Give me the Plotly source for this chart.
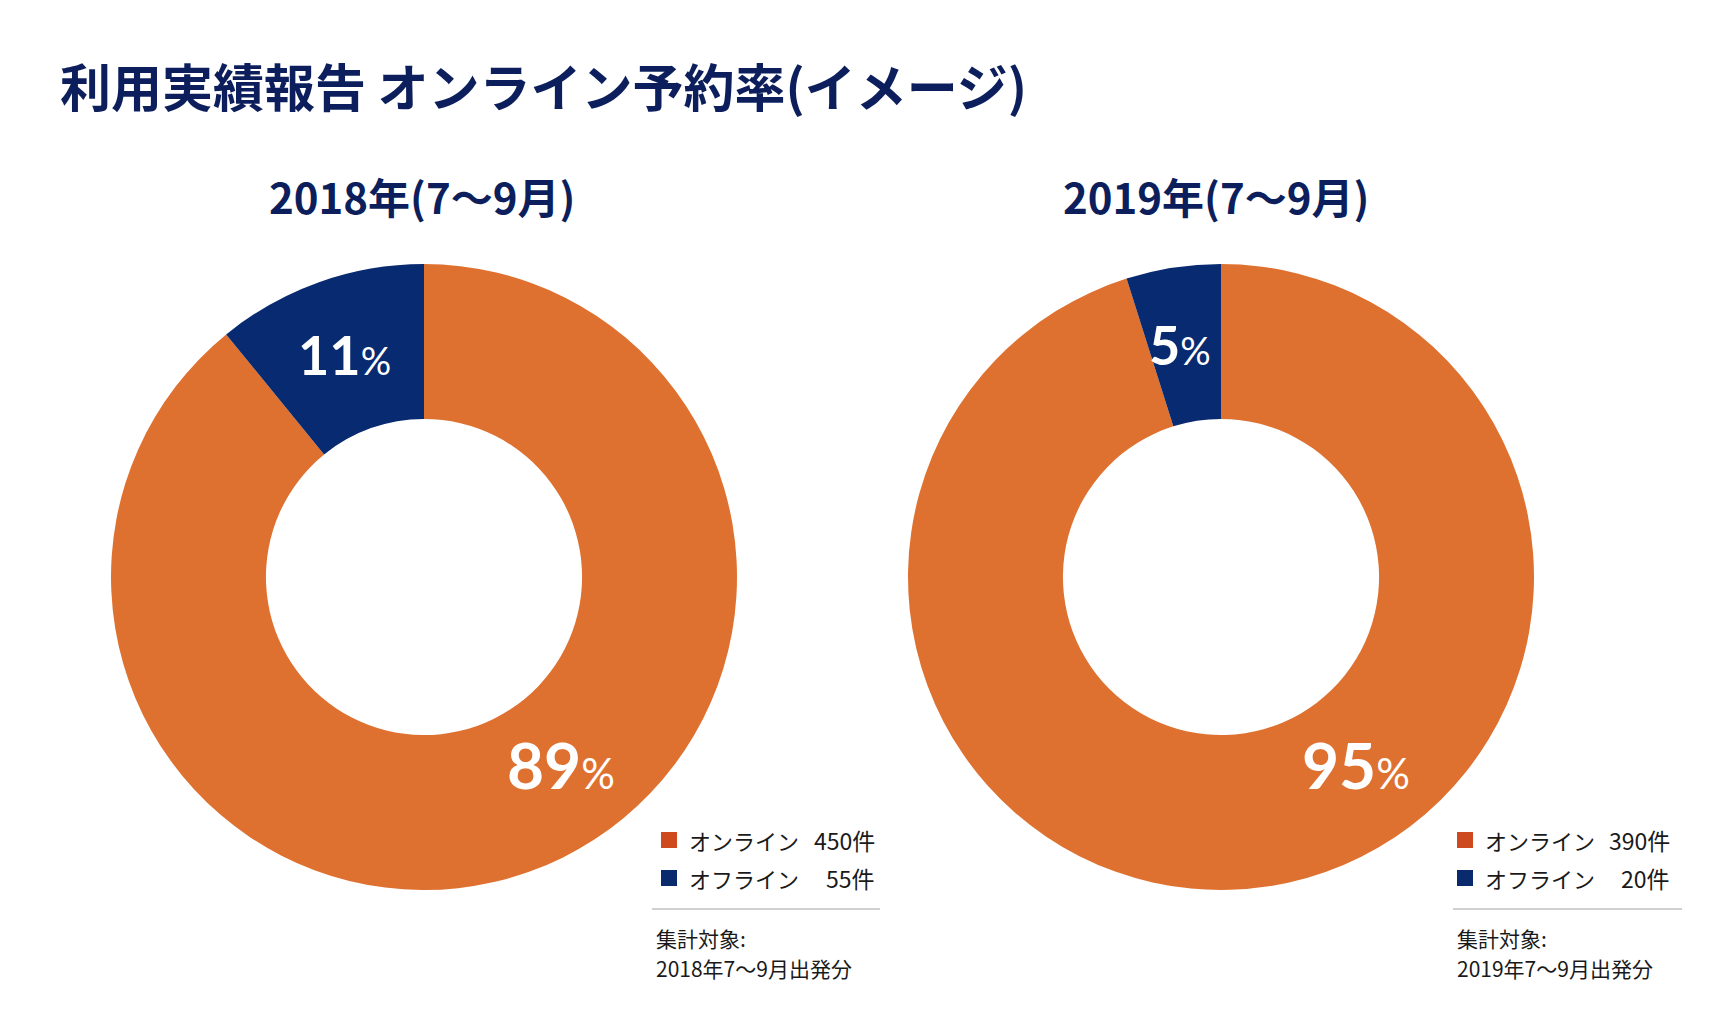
import plotly.graph_objects as go

# ---- data ----
title_text = "利用実績報告 オンライン予約率(イメージ)"
labels = ["オンライン", "オフライン"]
years = ["2018年(7〜9月)", "2019年(7〜9月)"]
counts_2018 = [450, 55]
counts_2019 = [390, 20]
notes = ["2018年7〜9月出発分", "2019年7〜9月出発分"]

W, H = 1718, 1020
def px(x): return x / W
def py(y): return 1 - y / H

NAVY_TXT = "#0C1F5C"
slice_colors = ["#DF7130", "#082A70"]
legend_colors = ["#CC4A1E", "#0A2A6E"]
JP = "Noto Sans CJK JP"

fig = go.Figure()

# pie geometry (pixel centres / radius)
centers = [(424, 577), (1221, 577)]
R = 313
datasets = [counts_2018, counts_2019]
for (cx, cy), vals in zip(centers, datasets):
    fig.add_trace(go.Pie(
        labels=labels, values=vals, hole=0.505, sort=False,
        direction="clockwise", rotation=0,
        marker=dict(colors=slice_colors, line=dict(width=0)),
        textinfo="none", hoverinfo="label+value+percent",
        showlegend=False,
        domain=dict(x=[px(cx - R), px(cx + R)], y=[py(cy + R), py(cy - R)]),
    ))

annotations = []
shapes = []

# title
annotations.append(dict(text=f"<b>{title_text}</b>", x=px(58), y=py(85), xref="paper", yref="paper",
                        xanchor="left", yanchor="middle", showarrow=False,
                        font=dict(family=JP, size=51, color=NAVY_TXT)))

# sub titles
for yr, xc in zip(years, [422, 1216]):
    annotations.append(dict(text=f"<b>{yr}</b>", x=px(xc), y=py(196), xref="paper", yref="paper",
                            xanchor="center", yanchor="middle", showarrow=False,
                            font=dict(family=JP, size=42, color=NAVY_TXT)))

# percentage labels
label_pos = [
    [((561, 764), 64, 42), ((344, 354), 54, 38)],
    [((1356, 764), 64, 42), ((1180, 344), 54, 38)],
]
for vals, poss in zip(datasets, label_pos):
    tot = sum(vals)
    for v, ((x, y), big, small) in zip(vals, poss):
        pct = round(v / tot * 100)
        annotations.append(dict(
            text=f"<b>{pct}</b><span style='font-size:{small}px'>%</span>",
            x=px(x), y=py(y), xref="paper", yref="paper", xanchor="center", yanchor="middle",
            showarrow=False, font=dict(family="Lato", size=big, color="white")))

# legends and notes
leg_x = [(669, 687, 877, 652, 880, 654), (1465, 1483, 1672, 1453, 1682, 1455)]
for vals, note, (sqx, tx, rx, l0, l1, nx) in zip(datasets, notes, leg_x):
    for i, (lab, v) in enumerate(zip(labels, vals)):
        yy = 840 + i * 38
        shapes.append(dict(type="rect", xref="paper", yref="paper",
                           x0=px(sqx - 8), x1=px(sqx + 8), y0=py(yy + 8), y1=py(yy - 8),
                           fillcolor=legend_colors[i], line=dict(width=0)))
        annotations.append(dict(text=lab, x=px(tx), y=py(yy), xref="paper", yref="paper",
                                xanchor="left", yanchor="middle", showarrow=False,
                                font=dict(family=JP, size=22, color="#1a1a1a")))
        annotations.append(dict(text=f"{v}件", x=px(rx), y=py(yy), xref="paper", yref="paper",
                                xanchor="right", yanchor="middle", showarrow=False,
                                font=dict(family=JP, size=23, color="#1a1a1a")))
    shapes.append(dict(type="line", xref="paper", yref="paper", x0=px(l0), x1=px(l1),
                       y0=py(909), y1=py(909), line=dict(color="#D0D0D0", width=2)))
    annotations.append(dict(text="集計対象:", x=px(nx), y=py(938), xref="paper", yref="paper",
                            xanchor="left", yanchor="middle", showarrow=False,
                            font=dict(family=JP, size=21, color="#1a1a1a")))
    annotations.append(dict(text=note, x=px(nx), y=py(968), xref="paper", yref="paper",
                            xanchor="left", yanchor="middle", showarrow=False,
                            font=dict(family=JP, size=21, color="#1a1a1a")))

fig.update_layout(width=W, height=H, margin=dict(l=0, r=0, t=0, b=0),
                  paper_bgcolor="white", plot_bgcolor="white",
                  annotations=annotations, shapes=shapes, showlegend=False)

fig.write_html("out.html")
